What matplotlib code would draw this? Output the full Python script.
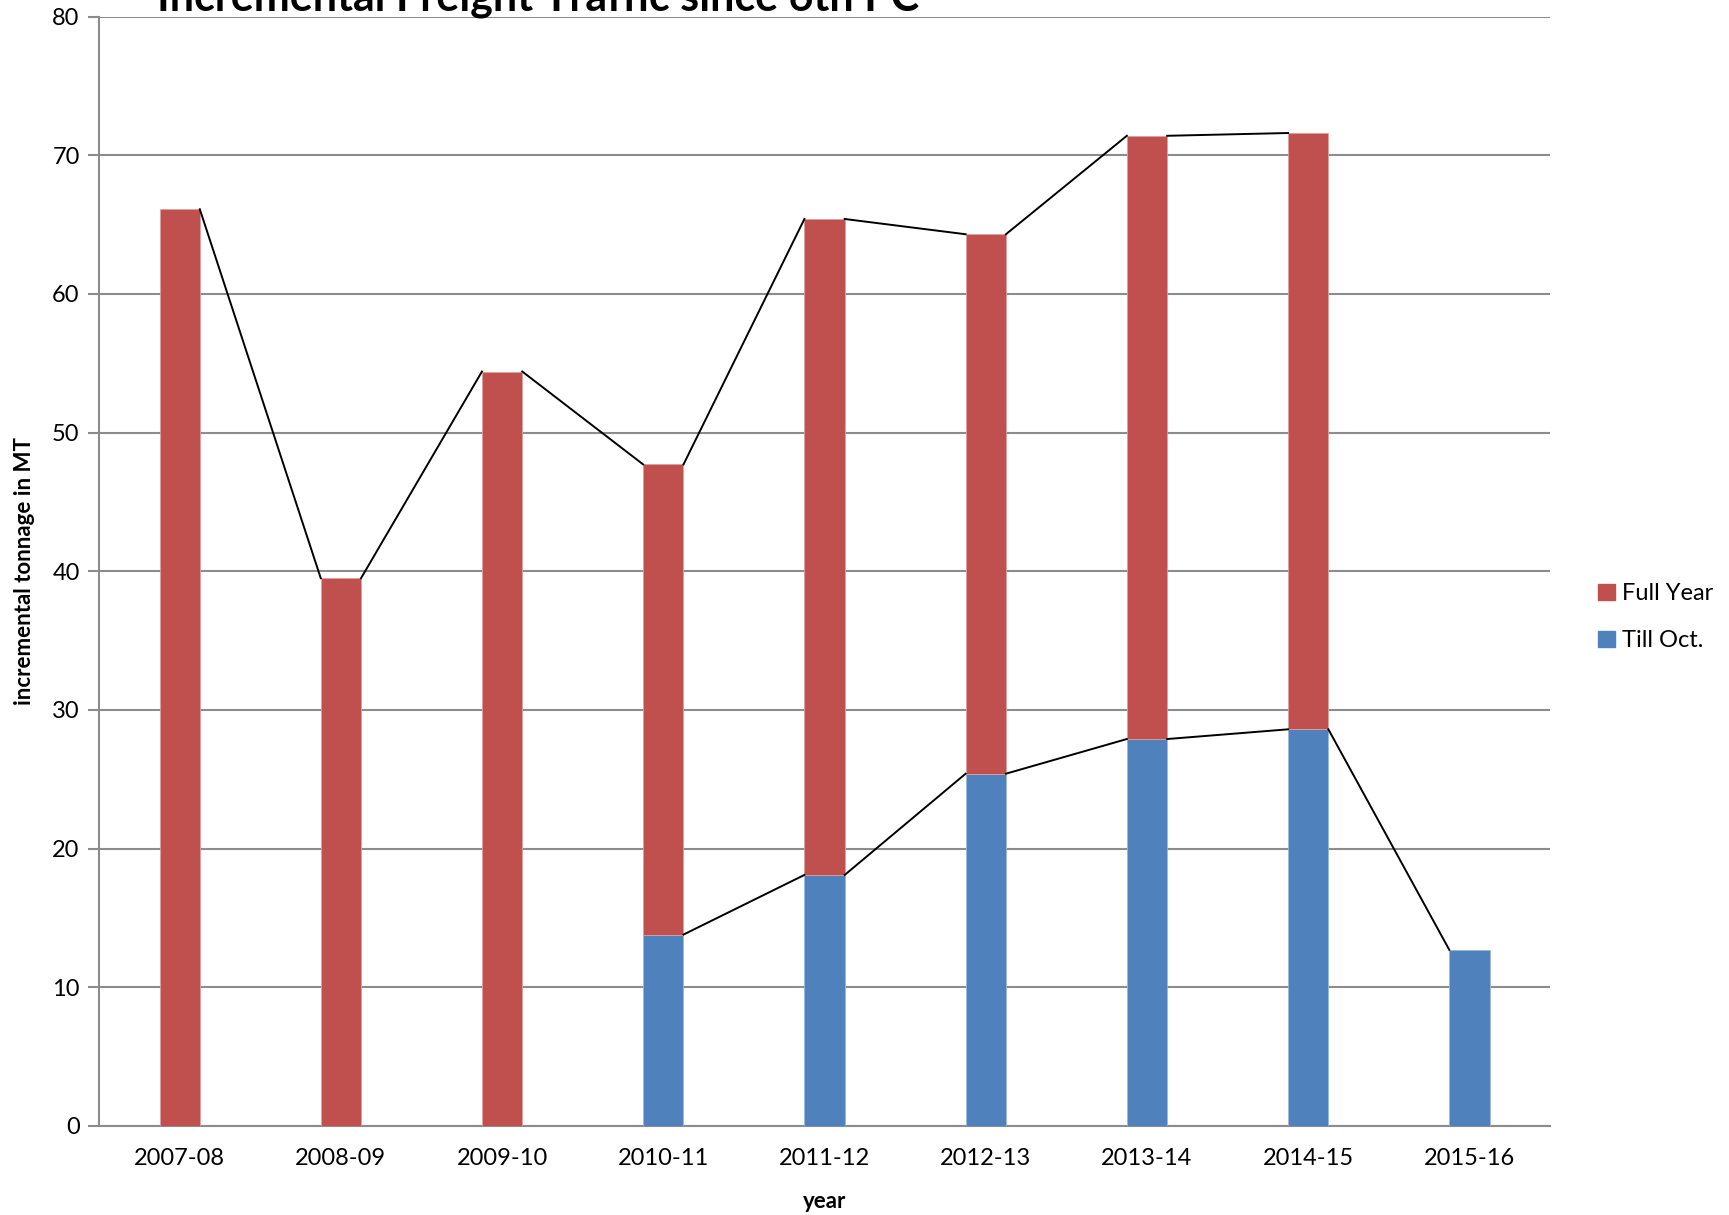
import matplotlib

matplotlib.use("Agg")
import matplotlib.pyplot as plt
import numpy as np
from matplotlib.patches import Patch

YEARS = ["2007-08", "2008-09", "2009-10", "2010-11", "2011-12",
         "2012-13", "2013-14", "2014-15", "2015-16"]
FULL_YEAR = [66.1, 39.5, 54.4, 47.7, 65.4, 64.3, 71.4, 71.6, np.nan]
TILL_OCT = [np.nan, np.nan, np.nan, 13.8, 18.1, 25.4, 27.9, 28.6, 12.7]

RED = "#C0504D"
BLUE = "#4F81BD"
GRID = "#8C8C8C"
FONT = ["Lato", "DejaVu Sans"]

plt.rcParams["font.family"] = FONT

till = np.array(TILL_OCT, dtype=float)
full = np.array(FULL_YEAR, dtype=float)
base = np.nan_to_num(till)
red_seg = full - base          # red stacked on top of blue
red_top = base + red_seg

fig = plt.figure(figsize=(17.29, 12.15), dpi=100)
ax = fig.add_axes([0.0573, 0.0733, 0.8392, 0.9131])

x = np.arange(len(YEARS))
w = 0.25
has_b = ~np.isnan(till)
has_r = ~np.isnan(red_seg)
ax.bar(x[has_b], till[has_b], w, color=BLUE, edgecolor="#9DB8DC", linewidth=0.6, zorder=3)
ax.bar(x[has_r], red_seg[has_r], w, bottom=base[has_r], color=RED, edgecolor="#E0A09E",
       linewidth=0.6, zorder=3)

# Excel-style series lines: right top corner -> left top corner of the next bar
for tops, ok in [(till, has_b), (red_top, has_r)]:
    for i in range(len(x) - 1):
        if ok[i] and ok[i + 1]:
            ax.plot([x[i] + w / 2, x[i + 1] - w / 2], [tops[i], tops[i + 1]],
                    color="black", lw=1.4, zorder=4)

ax.set_xlim(-0.5, len(YEARS) - 0.5)
ax.set_ylim(0, 80)
ax.set_yticks(range(0, 81, 10))
ax.set_xticks(x, YEARS)
ax.yaxis.grid(True, color=GRID, lw=1.5, zorder=0)
ax.tick_params(axis="x", length=0, labelsize=17, pad=16)
ax.tick_params(axis="y", length=8, width=1.5, color=GRID, labelsize=17, pad=6)
for s in ["top", "right"]:
    ax.spines[s].set_visible(False)
for s in ["left", "bottom"]:
    ax.spines[s].set_color(GRID)
    ax.spines[s].set_linewidth(1.5)

ax.set_xlabel("year", fontsize=16, fontweight="bold", labelpad=16)
ax.set_ylabel("incremental tonnage in MT", fontsize=16, fontweight="bold", labelpad=12)

fig.text(0.311, 0.991, "Incremental Freight Traffic since 6th PC", fontsize=31,
         fontweight="bold", ha="center", va="baseline")

handles = [Patch(color=RED, label="Full Year"), Patch(color=BLUE, label="Till Oct.")]
fig.legend(handles=handles, loc="center left", bbox_to_anchor=(0.912, 0.492),
           frameon=False, fontsize=17, handlelength=0.7, handleheight=0.7,
           handletextpad=0.3, labelspacing=1.1)

fig.savefig("out.png", dpi=100)
